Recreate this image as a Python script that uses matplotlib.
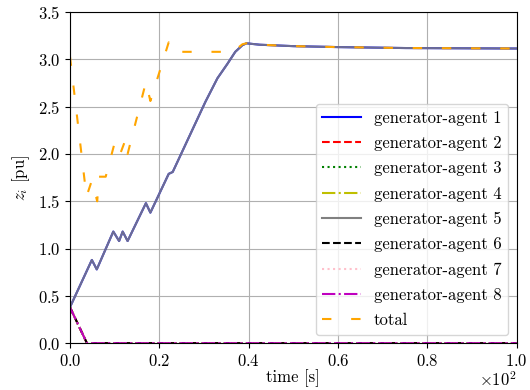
import matplotlib
matplotlib.use("Agg")
import matplotlib.pyplot as plt

plt.rcParams['font.family'] = 'serif'
plt.rcParams['font.serif'] = ['cmr10']
plt.rcParams['mathtext.fontset'] = 'cm'
plt.rcParams['axes.formatter.use_mathtext'] = True
plt.rcParams['axes.unicode_minus'] = False
plt.rcParams['font.size'] = 12

# agent 5 (the one that takes the whole load), agents 1 and 5 overlap
t_a5 = [0, 4.9, 6.0, 9.7, 11.0, 11.8, 12.9, 17.0, 18.0, 22.1, 23.0, 30.3, 33.0, 35.2, 37.0, 38.6, 39.5, 42.5, 50, 60, 75, 100]
z_a5 = [0.38, 0.88, 0.78, 1.18, 1.08, 1.18, 1.08, 1.48, 1.38, 1.79, 1.81, 2.55, 2.80, 2.95, 3.08, 3.15, 3.17, 3.155, 3.14, 3.13, 3.12, 3.115]

# the other agents drop to zero
t_other = [0, 3.8, 100]
z_other = [0.38, 0.0, 0.0]

# total
t_tot = [0, 3.7, 4.9, 6.1, 6.5, 8.0, 9.9, 11.0, 12.5, 12.9, 17.0, 18.0, 22.1, 23.0, 36.5, 38.6, 39.5, 42.5, 50, 60, 75, 100]
z_tot = [3.03, 1.55, 1.72, 1.50, 1.76, 1.76, 2.10, 1.97, 2.16, 2.00, 2.76, 2.56, 3.18, 3.08, 3.08, 3.16, 3.17, 3.155, 3.14, 3.13, 3.12, 3.115]

names = ['generator-agent %d' % i for i in range(1, 9)]

fig = plt.figure(figsize=(5.3, 3.9), dpi=100)
ax = fig.add_axes([0.132, 0.12, 0.843, 0.849])

ax.plot(t_a5, z_a5, color='blue', ls='-', lw=1.5, label=names[0])
ax.plot(t_other, z_other, color='red', ls='--', lw=1.5, label=names[1])
ax.plot(t_other, z_other, color='green', ls=':', lw=1.5, label=names[2])
ax.plot(t_other, z_other, color='y', ls='-.', lw=1.5, label=names[3])
ax.plot(t_a5, z_a5, color='gray', ls='-', lw=1.5, alpha=0.85, label=names[4])
ax.plot(t_other, z_other, color='black', ls='--', lw=1.5, label=names[5])
ax.plot(t_other, z_other, color='pink', ls=':', lw=1.5, label=names[6])
ax.plot(t_other, z_other, color='m', ls='-.', lw=1.5, label=names[7])
ax.plot(t_tot, z_tot, color='orange', ls=(0, (4.5, 9.5)), lw=1.5, label='total')

ax.set_xlim(0, 100)
ax.set_ylim(0, 3.5)
ax.set_yticks([0, 0.5, 1.0, 1.5, 2.0, 2.5, 3.0, 3.5])
ax.ticklabel_format(axis='x', style='sci', scilimits=(0, 0))
ax.xaxis.get_offset_text().set_visible(False)
ax.text(1.0, -0.083, r'$\times10^{2}$', transform=ax.transAxes, ha='right', va='top')
ax.grid(True)
ax.set_xlabel('time [s]', labelpad=0)
ax.set_ylabel('$z_i$ [pu]')

leg = ax.legend(loc='lower right', labelspacing=0.6, handlelength=2.3)
leg.legend_handles[4].set_alpha(1)

fig.savefig('out.png', dpi=100)
